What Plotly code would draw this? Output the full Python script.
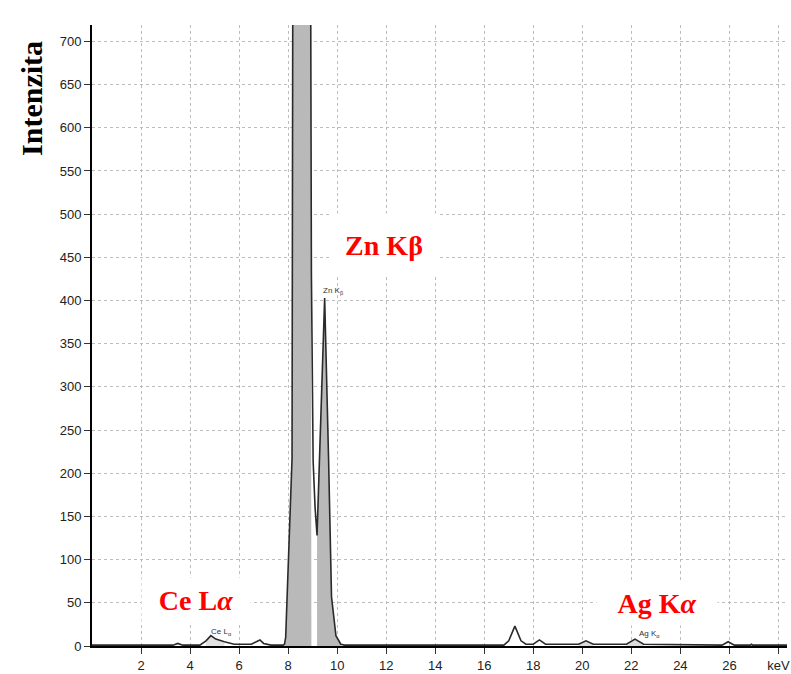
import plotly.graph_objects as go

# ---- data (keV, counts) ----
kev = [0.0, 3.3, 3.5, 3.7, 4.4, 4.65, 4.85, 5.05, 5.4, 5.8, 6.5, 6.75, 6.85, 7.0, 7.3,
       7.8, 7.85, 7.9, 8.16, 8.19, 8.55, 8.92, 8.94, 8.95, 9.02, 9.1, 9.18, 9.27, 9.49,
       9.65, 9.77, 9.95, 10.15, 10.3, 16.8, 17.0, 17.25, 17.5, 17.7, 18.0, 18.25, 18.5,
       19.85, 20.15, 20.45, 21.8, 22.15, 22.5, 25.7, 25.95, 26.2, 26.85, 26.9, 26.95, 28.35]
counts = [1, 1, 3, 1, 1, 6, 12, 8, 5, 2, 2, 6, 7, 3, 1,
          1, 2, 10, 217, 760, 3000, 760, 460, 430, 214, 160, 128, 214, 403,
          217, 57, 12, 2, 1, 1, 6, 23, 6, 2, 2, 7, 2,
          2, 6, 2, 2, 8, 2, 1, 5, 1, 1, 2, 1, 1]

# shaded regions of interest (start keV, end keV, shade)
roi_start = [7.85, 9.18, 4.65, 19.85, 21.8]
roi_end = [8.95, 10.15, 5.4, 20.45, 22.5]
roi_shade = ["#b9b9b9", "#b9b9b9", "#e2e2e2", "#dcdcdc", "#dcdcdc"]

x_ticks = [2, 4, 6, 8, 10, 12, 14, 16, 18, 20, 22, 24, 26, 28]
x_ticktext = ["2", "4", "6", "8", "10", "12", "14", "16", "18", "20", "22", "24", "26", "keV"]
y_ticks = list(range(0, 701, 50))

# peak labels (big red) and small instrument labels
big_labels = ["Zn K\u03b2", "Ce L<i>\u03b1</i>", "Ag K<i>\u03b1</i>"]
small_labels = ["Zn K<sub>\u03b2</sub>", "Ce L<sub>\u03b1</sub>", "Ag K<sub>\u03b1</sub>"]

fig = go.Figure()

for a, b, c in zip(roi_start, roi_end, roi_shade):
    xs = [a] + [k for k in kev if a <= k <= b] + [b]
    ys = [0] + [v for k, v in zip(kev, counts) if a <= k <= b] + [0]
    fig.add_trace(go.Scatter(x=xs, y=ys, mode="lines", fill="toself", fillcolor=c,
                             line=dict(width=0), hoverinfo="skip", showlegend=False))

fig.add_trace(go.Scatter(x=kev, y=counts, mode="lines",
                         line=dict(color="#2a2a2a", width=1.6), showlegend=False))

axis_font = dict(family="Liberation Sans, Arial, sans-serif", size=13, color="#222")

fig.update_xaxes(range=[0, 28.35], tickvals=x_ticks, ticktext=x_ticktext,
                 showline=True, linecolor="black", linewidth=2,
                 ticks="outside", ticklen=6, tickcolor="#333", tickwidth=1,
                 showgrid=True, gridcolor="#bdbdbd", griddash="dot", gridwidth=1,
                 zeroline=False, tickfont=axis_font, ticklabeloverflow="allow")
fig.update_yaxes(range=[0, 719], tickvals=y_ticks,
                 showline=True, linecolor="black", linewidth=2,
                 ticks="outside", ticklen=6, tickcolor="#333", tickwidth=1,
                 showgrid=True, gridcolor="#bdbdbd", griddash="dot", gridwidth=1,
                 zeroline=False, tickfont=axis_font)

serif_red = dict(family="Liberation Serif, Times New Roman, serif", size=28, color="#ff0000")

# big red labels with white boxes
fig.add_annotation(x=(385 - 92) / 698, y=(649 - 246) / 624, xref="paper", yref="paper",
                   text="<b>" + big_labels[0] + "</b>", showarrow=False, font=serif_red,
                   bgcolor="white", width=104, height=60, xanchor="center", yanchor="middle")
fig.add_annotation(x=(196 - 92) / 698, y=(649 - 603) / 624, xref="paper", yref="paper",
                   text="<b>" + big_labels[1] + "</b>", showarrow=False, font=serif_red,
                   bgcolor="white", width=106, height=42, xanchor="center", yanchor="middle")
fig.add_annotation(x=(659 - 92) / 698, y=(649 - 606) / 624, xref="paper", yref="paper",
                   text="<b>" + big_labels[2] + "</b>", showarrow=False, font=serif_red,
                   bgcolor="white", width=118, height=42, xanchor="center", yanchor="middle")

small_font = dict(family="Liberation Sans, Arial, sans-serif", size=8, color="#333")
fig.add_annotation(x=9.85, y=411, text=small_labels[0], showarrow=False, font=small_font)
fig.add_annotation(x=5.3, y=16, text=small_labels[1], showarrow=False, font=small_font)
fig.add_annotation(x=22.75, y=14, text=small_labels[2], showarrow=False, font=small_font)

# y axis title
fig.add_annotation(x=(31 - 92) / 698, y=(649 - 99) / 624, xref="paper", yref="paper",
                   text="<b>Intenzita</b>", textangle=-90, showarrow=False,
                   font=dict(family="Liberation Serif, Times New Roman, serif", size=30, color="black"),
                   xanchor="center", yanchor="middle")

fig.update_layout(width=791, height=674, margin=dict(l=92, r=1, t=25, b=25),
                  paper_bgcolor="white", plot_bgcolor="white", showlegend=False)

fig.write_html("out.html")
